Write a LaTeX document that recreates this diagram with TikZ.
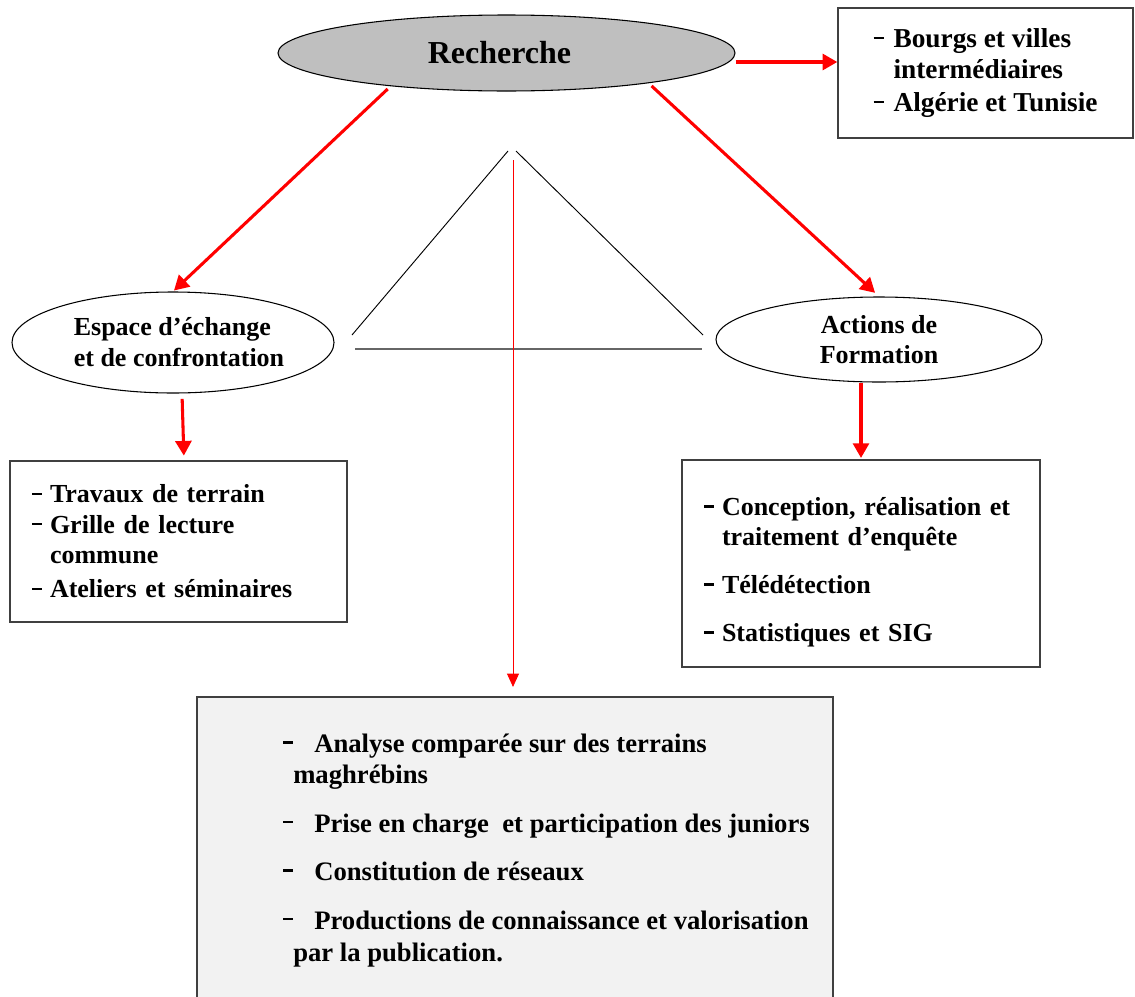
\documentclass[tikz,border=0pt]{standalone}
\usepackage{fontspec}
\setmainfont{Liberation Serif}
\usetikzlibrary{arrows.meta,shapes.geometric,calc}
\newcommand{\dsh}[1]{\makebox[#1][l]{\rule[6.1pt]{7.5pt}{1.6pt}}}
\newcommand{\bdsh}[1]{\makebox[#1][l]{\rule[6.9pt]{7pt}{1.6pt}}}
\begin{document}
\begin{tikzpicture}[x=0.75pt,y=-0.75pt,
  every node/.style={font=\bfseries},
  ell/.style={ellipse,draw=black,line width=0.8pt,inner sep=0pt},
  box/.style={rectangle,draw=black!75,line width=1.1pt,inner sep=0pt},
  redarrow/.style={draw=red,line width=2.3pt,-{Triangle[length=11pt,width=12pt]}},
  thinarrow/.style={draw=red,line width=0.6pt,-{Triangle[length=10pt,width=9pt]}},
  triline/.style={draw=black,line width=0.7pt}]
\useasboundingbox (0,0) rectangle (1135,996);
\clip (0,0) rectangle (1135,996);

% nodes
\node[ell,fill=black!25,minimum width=342.75pt,minimum height=57pt,
  font=\bfseries\fontsize{24}{28}\selectfont] (rech) at (506.5,53) {Recherche\hspace*{10.5pt}};

\node[box,minimum width=221.25pt,minimum height=97.5pt,align=left,
  font=\bfseries\fontsize{20.5}{23.25}\selectfont] (bourgs) at (985.5,73)
  {\dsh{15pt}Bourgs et villes\\ \hspace*{15pt}intermédiaires\\[1.5pt] \dsh{15pt}Algérie et Tunisie};

\node[ell,minimum width=241.5pt,minimum height=75.75pt,align=left,
  font=\bfseries\fontsize{19.5}{23.25}\selectfont] (esp) at (173,342.5)
  {\hspace*{9pt}Espace d’échange\\\hspace*{9pt}et de confrontation};

\node[ell,minimum width=244.5pt,minimum height=63.75pt,align=center,
  font=\bfseries\fontsize{19.5}{22.5}\selectfont] (act) at (879,339.5)
  {Actions de\\Formation};

\node[box,minimum height=120.75pt,inner xsep=16.5pt,text width=219.75pt,align=left,
  font=\bfseries\fontsize{19.5}{22.75}\selectfont] (lbox) at (178.5,541.5)
  {\dsh{13.5pt}Travaux de terrain\\
   \dsh{13.5pt}Grille de lecture\\
   \hspace*{13.5pt}commune\\[3pt]
   \dsh{13.5pt}Ateliers et séminaires};

\node[box,minimum height=155.25pt,inner xsep=16.5pt,text width=235.5pt,align=left,
  font=\bfseries\fontsize{19.5}{22.5}\selectfont] (rbox) at (861,563.5)
  {\rule{0pt}{27pt}\dsh{13.5pt}\makebox[223.5pt][s]{Conception, réalisation et}\\
   \hspace*{13.5pt}traitement d’enquête\\[13.5pt]
   \dsh{13.5pt}Télédétection\\[13.5pt]
   \dsh{13.5pt}Statistiques et SIG};

\node[box,fill=black!5,minimum width=477pt,minimum height=255pt] (bot) at (515,867) {};
\node[anchor=north west,inner sep=0pt,align=left,
  font=\bfseries\fontsize{20}{23}\selectfont] (bottext) at (283,734)
  {\bdsh{23.25pt}Analyse comparée sur des terrains\\
   \hspace*{7.5pt}maghrébins\\[13.5pt]
   \bdsh{23.25pt}Prise en charge \ et participation des juniors\\[13.5pt]
   \bdsh{23.25pt}Constitution de réseaux\\[13.5pt]
   \bdsh{23.25pt}Productions de connaissance et valorisation\\[1pt]
   \hspace*{7.5pt}par la publication.};

% triangle
\coordinate (tl) at (352,335);
\coordinate (ta1) at (508,151);
\coordinate (ta2) at (516,151);
\coordinate (tr) at (703,335);
\coordinate (bl) at (355,349);
\coordinate (br) at (702,349);
\draw[triline] (tl) -- (ta1);
\draw[triline] (ta2) -- (tr);
\draw[draw=black!60,line width=1pt] (bl) -- (br);

% connectors
\coordinate (rs) at ($(rech.east)+(0,9)$);
\draw[redarrow] (rs) -- (rs -| bourgs.west);
\draw[redarrow,shorten <=3pt,shorten >=1pt] (rech.196) -- (esp.north);
\draw[redarrow,shorten <=3pt,shorten >=4pt] (rech.-12) -- (act.north);
\draw[redarrow,shorten <=4pt,shorten >=3.5pt] ($(esp.south)+(9,0)$) -- ($(lbox.north)+(5.5,0)$);
\draw[redarrow,shorten >=1pt] (rbox.north |- act.south) -- (rbox.north);
\coordinate (apex) at (513,160);
\draw[thinarrow,shorten >=7pt] (apex) -- (apex |- bot.north);
\end{tikzpicture}
\end{document}
